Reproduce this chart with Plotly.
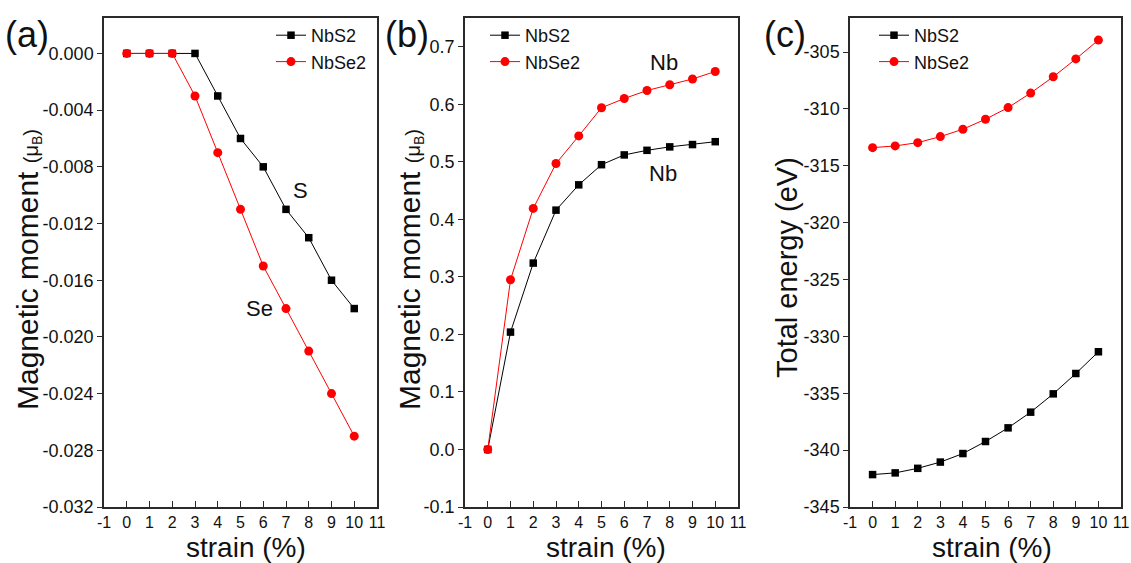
import plotly.graph_objects as go

strain = [0, 1, 2, 3, 4, 5, 6, 7, 8, 9, 10]

# (a) magnetic moment of S / Se atoms
mom_s_nbs2 = [0, 0, 0, 0, -0.003, -0.006, -0.008, -0.011, -0.013, -0.016, -0.018]
mom_se_nbse2 = [0, 0, 0, -0.003, -0.007, -0.011, -0.015, -0.018, -0.021, -0.024, -0.027]

# (b) magnetic moment of Nb atoms
mom_nb_nbs2 = [0, 0.204, 0.324, 0.416, 0.46, 0.495, 0.512, 0.52, 0.526, 0.53, 0.535]
mom_nb_nbse2 = [0, 0.295, 0.419, 0.497, 0.545, 0.594, 0.61, 0.624, 0.634, 0.644, 0.657]

# (c) total energy
energy_nbs2 = [-342.15, -342.0, -341.6, -341.05, -340.3, -339.24, -338.04, -336.66, -335.05, -333.26, -331.35]
energy_nbse2 = [-313.4, -313.25, -312.96, -312.43, -311.78, -310.9, -309.88, -308.6, -307.17, -305.6, -303.94]

x_ticks = list(range(-1, 12))

# page pixel helpers (body margin removed in the page, so figure == window)
W, H = 1131, 563
FONT = "Arial, Liberation Sans, sans-serif"
BLACK = "#000000"
RED = "#ff0000"
AX = "#2a2a2a"
TXT = "#111111"

def px_x(p):
    return p / W

def px_y(p):
    return 1 - p / H

fig = go.Figure()

panels = [
    ("", "", mom_s_nbs2, mom_se_nbse2, "legend"),
    ("2", "2", mom_nb_nbs2, mom_nb_nbse2, "legend2"),
    ("3", "3", energy_nbs2, energy_nbse2, "legend3"),
]
for xs, ys, s2, se2, lg in panels:
    fig.add_trace(go.Scatter(x=strain, y=s2, name="NbS2", mode="lines+markers",
                             line=dict(color=BLACK, width=1),
                             marker=dict(symbol="square", size=7.5, color=BLACK),
                             xaxis="x" + xs, yaxis="y" + ys, legend=lg))
    fig.add_trace(go.Scatter(x=strain, y=se2, name="NbSe2", mode="lines+markers",
                             line=dict(color=RED, width=1),
                             marker=dict(symbol="circle", size=9, color=RED),
                             xaxis="x" + xs, yaxis="y" + ys, legend=lg))

ydom = [px_y(507), px_y(18)]
xdoms = [[px_x(104), px_x(377)], [px_x(465), px_x(738)], [px_x(850), px_x(1121)]]

common_x = dict(range=[-1, 11], tickmode="array", tickvals=x_ticks, ticktext=[str(v) for v in x_ticks],
                ticks="inside", ticklen=6, tickwidth=1.2, tickcolor=AX,
                showline=True, linecolor=AX, linewidth=1.5, mirror=True,
                showgrid=False, zeroline=False,
                tickfont=dict(family=FONT, size=16, color=TXT),
                automargin=False)
common_y = dict(ticks="outside", ticklen=5, tickwidth=1.2, tickcolor=AX,
                showline=True, linecolor=AX, linewidth=1.5, mirror=True,
                showgrid=False, zeroline=False,
                tickfont=dict(family=FONT, size=18, color=TXT),
                automargin=False)

legend_common = dict(xanchor="left", yanchor="top", bgcolor="rgba(0,0,0,0)",
                     font=dict(family=FONT, size=18, color=TXT),
                     tracegroupgap=0, itemwidth=30)

fig.update_layout(
    width=W, height=H,
    margin=dict(l=0, r=0, t=0, b=0),
    paper_bgcolor="white", plot_bgcolor="white",
    font=dict(family=FONT, color=TXT),
    xaxis=dict(domain=xdoms[0], anchor="y", **common_x),
    xaxis2=dict(domain=xdoms[1], anchor="y2", **common_x),
    xaxis3=dict(domain=xdoms[2], anchor="y3", **common_x),
    yaxis=dict(domain=ydom, anchor="x", range=[-0.032, 0.0025], tickmode="array",
               tickvals=[-0.032, -0.028, -0.024, -0.020, -0.016, -0.012, -0.008, -0.004, 0.0],
               ticktext=["-0.032", "-0.028", "-0.024", "-0.020", "-0.016", "-0.012", "-0.008", "-0.004", "0.000"],
               **common_y),
    yaxis2=dict(domain=ydom, anchor="x2", range=[-0.1, 0.75], tickmode="array",
                tickvals=[-0.1, 0, 0.1, 0.2, 0.3, 0.4, 0.5, 0.6, 0.7],
                ticktext=["-0.1", "0.0", "0.1", "0.2", "0.3", "0.4", "0.5", "0.6", "0.7"],
                **common_y),
    yaxis3=dict(domain=ydom, anchor="x3", range=[-345, -302], tickmode="array",
                tickvals=[-345, -340, -335, -330, -325, -320, -315, -310, -305],
                ticktext=["-345", "-340", "-335", "-330", "-325", "-320", "-315", "-310", "-305"],
                **common_y),
    legend=dict(x=px_x(271), y=px_y(17), **legend_common),
    legend2=dict(x=px_x(485), y=px_y(17), **legend_common),
    legend3=dict(x=px_x(874), y=px_y(17), **legend_common),
    showlegend=True,
)

mm_title = "Magnetic moment <span style='font-size:20px'>(μ<sub>B</sub>)</span>"

def label(text, x, y, size, **kw):
    d = dict(text=text, x=px_x(x), y=px_y(y), xref="paper", yref="paper",
             xanchor="center", yanchor="middle", showarrow=False,
             font=dict(family=FONT, size=size, color=TXT))
    d.update(kw)
    return d

annots = [
    # panel labels
    label("(a)", 3, 34, 36, xanchor="left"),
    label("(b)", 383, 34, 36, xanchor="left"),
    label("(c)", 762, 34, 36, xanchor="left"),
    # axis titles
    label("strain (%)", 246, 547, 28),
    label("strain (%)", 606, 547, 28),
    label("strain (%)", 992, 547, 28),
    label(mm_title, 28, 270, 30, textangle=-90),
    label(mm_title, 410, 270, 30, textangle=-90),
    label("Total energy (eV)", 787, 268, 29, textangle=-90),
    # in-plot labels
    dict(text="S", x=7.65, y=-0.0097, xref="x", yref="y", showarrow=False,
         font=dict(family=FONT, size=22, color=TXT)),
    dict(text="Se", x=5.85, y=-0.018, xref="x", yref="y", showarrow=False,
         font=dict(family=FONT, size=22, color=TXT)),
    dict(text="Nb", x=7.75, y=0.672, xref="x2", yref="y2", showarrow=False,
         font=dict(family=FONT, size=22, color=TXT)),
    dict(text="Nb", x=7.7, y=0.48, xref="x2", yref="y2", showarrow=False,
         font=dict(family=FONT, size=22, color=TXT)),
]
fig.update_layout(annotations=annots)

fig.write_html("out.html", config={"displayModeBar": False},
               post_script="document.body.style.margin='0';document.body.style.overflow='hidden';")
